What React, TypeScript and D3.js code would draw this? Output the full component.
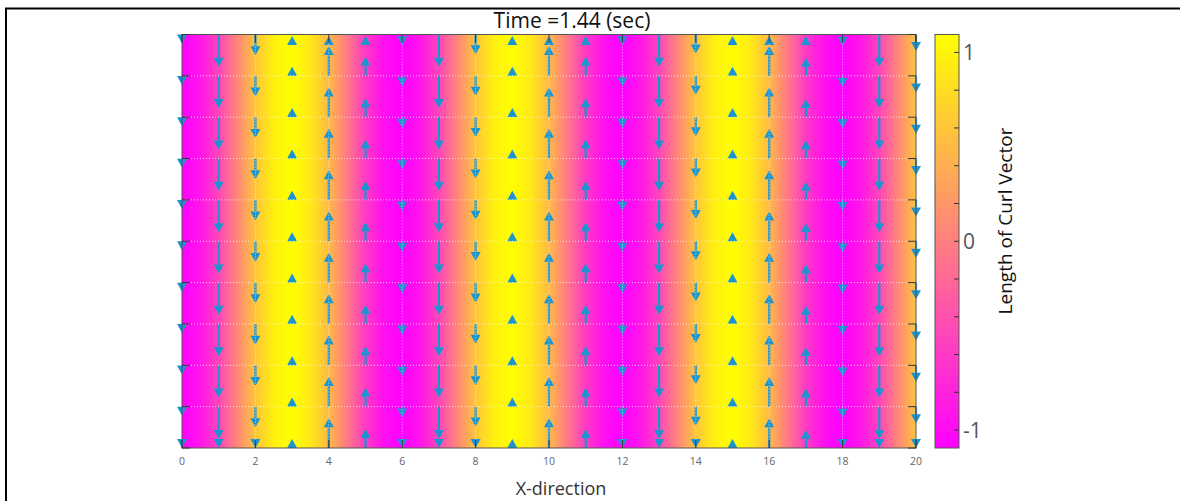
import React, { useEffect, useRef } from "react";
import * as d3 from "d3";

// curl (z) read along x, every 0.5 unit from 0 to 20
const curlValues = [
  -1.09, -0.91, -0.49, 0.06, 0.59, 0.97, 1.09, 0.91, 0.49, -0.06, -0.59, -0.97,
  -1.09, -0.91, -0.49, 0.06, 0.59, 0.97, 1.09, 0.91, 0.49, -0.06, -0.59, -0.97,
  -1.09, -0.91, -0.49, 0.06, 0.59, 0.97, 1.09, 0.91, 0.49, -0.06, -0.59, -0.97,
  -1.09, -0.91, -0.49, 0.06, 0.59,
];
const curlStep = 0.5;

// arrow grid
const arrowCols = [0, 1, 2, 3, 4, 5, 6, 7, 8, 9, 10, 11, 12, 13, 14, 15, 16, 17, 18, 19, 20];
const arrowRows = [0, 1, 2, 3, 4, 5, 6, 7, 8, 9, 10];
// vertical component of each column (y units, + is up)
const arrowV = [
  -0.22, -0.78, -0.5, 0.22, 0.72, 0.46, -0.26, -0.78, -0.48, 0.22, 0.72,
  0.46, -0.26, -0.78, -0.46, 0.22, 0.72, 0.44, -0.27, -0.78, -0.4,
];

const xTicks = [0, 2, 4, 6, 8, 10, 12, 14, 16, 18, 20];
const cbarTicks = [-1, -0.8, -0.6, -0.4, -0.2, 0, 0.2, 0.4, 0.6, 0.8, 1];
const cbarLabels = [-1, 0, 1];
const cbarMax = 1.095;

const App = () => {
  const ref = useRef<SVGSVGElement>(null);

  useEffect(() => {
    const width = 1180;
    const height = 501;
    const left = 182;
    const right = 916;
    const top = 34.5;
    const bottom = 448;
    const cbLeft = 935;
    const cbRight = 959;
    const font = "'Open Sans', sans-serif";
    const blue = "#1b95d0";

    const svg = d3.select(ref.current)
      .attr("width", width)
      .attr("height", height);
    svg.selectAll("*").remove();

    const x = d3.scaleLinear().domain([0, 20]).range([left, right]);
    const y = d3.scaleLinear().domain([0, 10]).range([bottom, top]);
    const color = d3.scaleLinear<string>()
      .domain([-cbarMax, cbarMax])
      .range(["#ff00ff", "#ffff00"]);
    const cy = d3.scaleLinear().domain([-cbarMax, cbarMax]).range([bottom, top]);

    const defs = svg.append("defs");

    // === background gradient ===
    const bgGrad = defs.append("linearGradient")
      .attr("id", "bgGrad")
      .attr("x1", "0%").attr("x2", "100%").attr("y1", "0%").attr("y2", "0%");
    curlValues.forEach((c, i) => {
      bgGrad.append("stop")
        .attr("offset", `${(i * curlStep / 20) * 100}%`)
        .attr("stop-color", color(c));
    });

    const cbGrad = defs.append("linearGradient")
      .attr("id", "cbGrad")
      .attr("x1", "0%").attr("x2", "0%").attr("y1", "100%").attr("y2", "0%");
    cbGrad.append("stop").attr("offset", "0%").attr("stop-color", color(-cbarMax));
    cbGrad.append("stop").attr("offset", "100%").attr("stop-color", color(cbarMax));

    // outer frame
    svg.append("rect")
      .attr("x", 6).attr("y", 8.5)
      .attr("width", 1300).attr("height", 600)
      .attr("fill", "white")
      .attr("stroke", "black")
      .attr("stroke-width", 2);

    svg.append("rect")
      .attr("x", left).attr("y", top)
      .attr("width", right - left).attr("height", bottom - top)
      .attr("fill", "url(#bgGrad)");

    // === arrows ===
    const ag = svg.append("g");
    const headLen = 9;
    const headHalf = 5;
    arrowCols.forEach((col, i) => {
      const v = arrowV[i];
      const px = x(col);
      arrowRows.forEach((row) => {
        const y0 = y(row);
        let tip = y(row + v);
        const dir = v > 0 ? -1 : 1; // pixel direction
        if (tip < top + 1.5) tip = top + 1.5;
        if (tip > bottom) tip = bottom;
        const base = tip - dir * headLen;
        if ((base - y0) * dir > 0) {
          ag.append("line")
            .attr("x1", px).attr("x2", px)
            .attr("y1", y0).attr("y2", base)
            .attr("stroke", blue)
            .attr("stroke-width", 2.2);
        }
        ag.append("path")
          .attr("d", `M${px},${tip}L${px - headHalf},${base}L${px + headHalf},${base}Z`)
          .attr("fill", blue);
      });
    });

    // === grid (on top) ===
    const grid = svg.append("g")
      .attr("stroke", "white")
      .attr("stroke-width", 1)
      .attr("stroke-dasharray", "1,2")
      .attr("opacity", 0.75);
    xTicks.slice(1, -1).forEach((t) => {
      grid.append("line")
        .attr("x1", x(t)).attr("x2", x(t))
        .attr("y1", top).attr("y2", bottom);
    });
    arrowRows.slice(1, -1).forEach((r) => {
      grid.append("line")
        .attr("x1", left).attr("x2", right)
        .attr("y1", y(r)).attr("y2", y(r));
    });

    // === axes box & ticks ===
    const ax = svg.append("g").attr("stroke", "#333").attr("stroke-width", 1);
    ax.append("rect")
      .attr("x", left).attr("y", top)
      .attr("width", right - left).attr("height", bottom - top)
      .attr("fill", "none")
      .attr("stroke", "#555");
    const tl = 8;
    xTicks.forEach((t) => {
      ax.append("line").attr("x1", x(t)).attr("x2", x(t)).attr("y1", bottom).attr("y2", bottom - tl);
      ax.append("line").attr("x1", x(t)).attr("x2", x(t)).attr("y1", top).attr("y2", top + tl);
    });
    arrowRows.forEach((r) => {
      ax.append("line").attr("x1", left).attr("x2", left + tl).attr("y1", y(r)).attr("y2", y(r));
      ax.append("line").attr("x1", right).attr("x2", right - tl).attr("y1", y(r)).attr("y2", y(r));
    });

    svg.append("g")
      .selectAll("text")
      .data(xTicks)
      .join("text")
      .attr("x", (d) => x(d))
      .attr("y", 465)
      .attr("text-anchor", "middle")
      .attr("font-family", font)
      .attr("font-size", 10.5)
      .attr("fill", "#666")
      .text((d) => d);

    // title & labels
    svg.append("text")
      .attr("x", (left + right) / 2 + 23)
      .attr("y", 28)
      .attr("text-anchor", "middle")
      .attr("font-family", font)
      .attr("font-size", 21)
      .attr("fill", "#111")
      .text("Time =1.44 (sec)");

    svg.append("text")
      .attr("x", 561)
      .attr("y", 495)
      .attr("text-anchor", "middle")
      .attr("font-family", font)
      .attr("font-size", 18)
      .attr("fill", "#333")
      .text("X-direction");

    // === colorbar ===
    svg.append("rect")
      .attr("x", cbLeft).attr("y", top)
      .attr("width", cbRight - cbLeft).attr("height", bottom - top)
      .attr("fill", "url(#cbGrad)")
      .attr("stroke", "#555")
      .attr("stroke-width", 1);
    cbarTicks.forEach((t) => {
      svg.append("line")
        .attr("x1", cbRight).attr("x2", cbRight - 5)
        .attr("y1", cy(t)).attr("y2", cy(t))
        .attr("stroke", "#333");
    });
    cbarLabels.forEach((t) => {
      svg.append("text")
        .attr("x", 963)
        .attr("y", cy(t))
        .attr("dominant-baseline", "central")
        .attr("font-family", font)
        .attr("font-size", 21)
        .attr("fill", "#555")
        .text(t);
    });
    svg.append("text")
      .attr("transform", "translate(1012,221) rotate(-90)")
      .attr("text-anchor", "middle")
      .attr("font-family", font)
      .attr("font-size", 19)
      .attr("fill", "#111")
      .text("Length of Curl Vector");
  }, []);

  return (
    <svg ref={ref} style={{ position: "absolute", left: 0, top: 0 }}></svg>
  );
};

export default App;
